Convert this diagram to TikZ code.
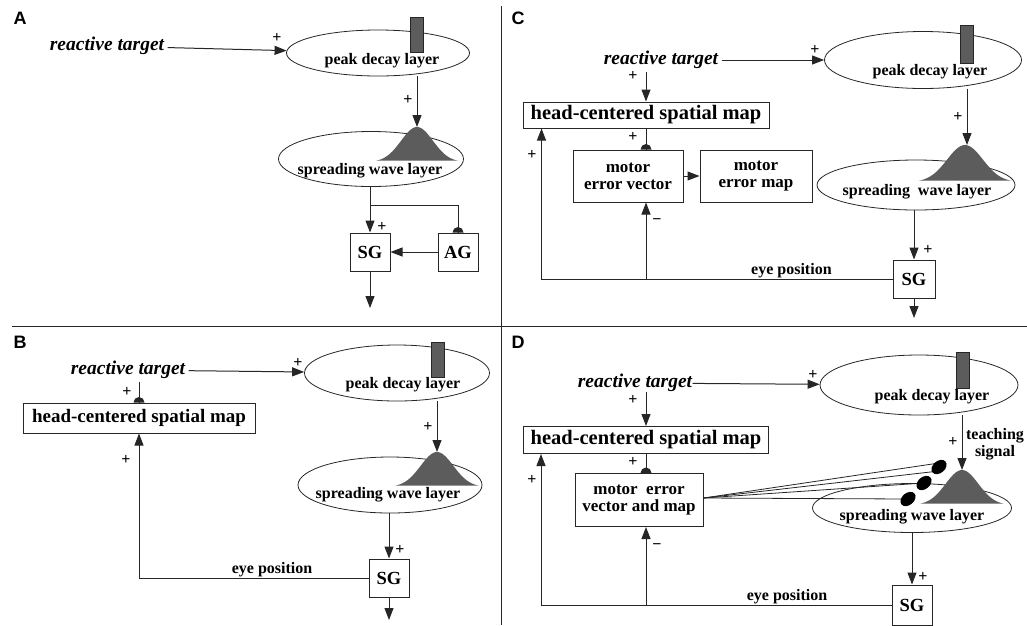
\documentclass[tikz,border=0pt]{standalone}
\usepackage{fontspec}
\setmainfont{Liberation Serif}
\setsansfont{Liberation Sans}
\usetikzlibrary{arrows.meta,shapes.geometric}
\definecolor{hump}{HTML}{5C5C5C}
\newcommand{\inhib}[1]{\fill[black!85] (#1) ++(-5.5,0) arc[start angle=180,end angle=0,radius=5.5pt] -- cycle;}
\newcommand{\wavehump}[4]{\fill[hump] plot[domain=-#4:#4,samples=41,smooth] ({#1+\x},{#2-#3*exp(-(\x/(0.55*#4))^2)}) -- cycle;}

\begin{document}
\begin{tikzpicture}[x=1pt,y=-1pt,line width=1pt,draw=black!85]
    \tikzstyle{layer}=[ellipse,draw,inner sep=0pt,line width=0.8pt]
    \tikzstyle{box}=[rectangle,draw,inner sep=0pt,align=center,font=\bfseries\fontsize{17}{17}\selectfont]
    \tikzstyle{gen}=[box,minimum width=40pt,minimum height=38pt,font=\bfseries\fontsize{18.5}{18.5}\selectfont]
    \tikzstyle{headmap}=[box,font=\bfseries\fontsize{20.5}{20.5}\selectfont]
    \tikzstyle{lbl}=[inner sep=0pt,align=center,font=\bfseries\fontsize{16}{17}\selectfont]
    \tikzstyle{target}=[inner sep=3pt,font=\bfseries\itshape\fontsize{19.5}{19.5}\selectfont]
    \tikzstyle{decaybar}=[rectangle,draw,fill=hump,inner sep=0pt,minimum width=13pt,line width=0.8pt]
    \tikzstyle{sign}=[inner sep=0pt,font=\bfseries\fontsize{16}{16}\selectfont]
    \tikzstyle{panel}=[font=\sffamily\bfseries\fontsize{18}{18}\selectfont]
    \tikzstyle{excite}=[-{Triangle[length=12pt,width=9pt]}]
    \tikzstyle{eyelbl}=[above,inner sep=1pt,font=\bfseries\fontsize{16}{16}\selectfont]
    \useasboundingbox (0,0) rectangle (1027,625);
    % panel frame
    \draw (501,6) -- (501,625);
    \draw (12,326) -- (1027,326);
    % A
    \node (Alab) at (20,18) [panel] {A};
    \node (Atarget) at (107,46) [target] {reactive target};
    \node (Apeak) at (378,53) [layer,minimum width=183pt,minimum height=46pt] {};
    \node (Abar) at (417,35) [decaybar,minimum height=35pt] {};
    \node (Apeaktxt) at (382,61) [lbl] {peak decay layer};
    \node (Awave) at (371,159) [layer,minimum width=185pt,minimum height=55pt] {};
    \wavehump{417}{162}{35}{41}
    \coordinate (Apk) at (417,127);
    \node (Awavetxt) at (370,171) [lbl] {spreading wave layer};
    \node (Asg) at (370,252) [gen] {SG};
    \node (Aag) at (458,252) [gen] {AG};
    \coordinate (Abr) at (370,205);
    \coordinate (Aout) at (370,308);
    \draw [excite] (Atarget) -- (Apeak);
    \draw [excite] (Apk |- Apeak.south) -- (Apk);
    \draw [excite] (Asg |- Awave.south) -- (Asg);
    \draw (Abr) -| (Aag.north);
    \inhib{Aag.north}
    \draw [excite] (Aag) -- (Asg);
    \draw [excite] (Asg) -- (Aout);
    \node (Ap1) at (277,38) [sign] {+};
    \node (Ap2) at (408,100) [sign] {+};
    \node (Ap3) at (382,227) [sign] {+};
    % B
    \node (Blab) at (20,342) [panel] {B};
    \node (Btarget) at (128,370) [target] {reactive target};
    \node (Bpeak) at (397,373) [layer,minimum width=185pt,minimum height=56pt] {};
    \node (Bbar) at (438,360) [decaybar,minimum height=35pt] {};
    \node (Bpeaktxt) at (403,385) [lbl] {peak decay layer};
    \node (Bwave) at (390,485) [layer,minimum width=184pt,minimum height=56pt] {};
    \wavehump{437}{487}{35}{42}
    \coordinate (Bpk) at (437,452);
    \node (Bwavetxt) at (388,495) [lbl] {spreading wave layer};
    \node (Bsg) at (389,578) [gen] {SG};
    \node (Bhead) at (139,418) [headmap,minimum width=232pt,minimum height=30pt,font=\bfseries\fontsize{19}{19}\selectfont] {head-centered spatial map};
    \coordinate (Bout) at (389,620);
    \draw [excite] (Btarget) -- (Bpeak);
    \draw (Btarget.south -| Bhead.north) -- (Bhead.north);
    \inhib{Bhead.north}
    \draw [excite] (Bpk |- Bpeak.south) -- (Bpk);
    \draw [excite] (Bsg |- Bwave.south) -- (Bsg);
    \draw [excite] (Bsg) -- (Bout);
    \draw [excite] (Bsg.west) -| node (Beye) [eyelbl,pos=0.21] {eye position} (Bhead.south);
    \node (Bp1) at (298,363) [sign] {+};
    \node (Bp2) at (428,427) [sign] {+};
    \node (Bp3) at (400,550) [sign] {+};
    \node (Bp4) at (126,460) [sign] {+};
    \node (Bp5) at (127,392) [sign] {+};
    % C
    \node (Clab) at (518,18) [panel] {C};
    \node (Ctarget) at (661,60) [target] {reactive target};
    \node (Cpeak) at (923,60) [layer,minimum width=197pt,minimum height=57pt] {};
    \node (Cbar) at (967,44) [decaybar,minimum height=38pt] {};
    \node (Cpeaktxt) at (930,72) [lbl] {peak decay layer};
    \node (Cwave) at (916,185) [layer,minimum width=198pt,minimum height=50pt] {};
    \wavehump{965}{182}{37}{46}
    \coordinate (Cpk) at (967,145);
    \node (Cwavetxt) at (917,192) [lbl] {spreading\ \ wave layer};
    \node (Csg) at (914,279) [gen,minimum width=42pt] {SG};
    \node (Chead) at (646,115) [headmap,minimum width=246pt,minimum height=26pt] {head-centered spatial map};
    \node (Cvec) at (628,176) [box,minimum width=110pt,minimum height=52pt] {motor\\error vector};
    \node (Cmap) at (756,176) [box,minimum width=112pt,minimum height=52pt] {motor\\error map};
    \coordinate (Cout) at (914,318);
    \draw [excite] (Ctarget) -- (Cpeak);
    \draw [excite] (Ctarget.south -| Chead.north) -- (Chead.north);
    \draw (Chead.south) -- (Chead.south |- Cvec.north);
    \inhib{Chead.south |- Cvec.north}
    \draw [excite] (Cvec) -- (Cmap);
    \draw [excite] (Cpk |- Cpeak.south) -- (Cpk);
    \draw [excite] (Csg |- Cwave.south) -- (Csg);
    \draw [excite] (Csg) -- (Cout);
    \draw [excite] (Csg.west) -| node (Ceye) [eyelbl,pos=0.144] {eye position} ([xshift=19pt]Chead.south west);
    \draw [excite] (Csg.west -| Chead.south) -- (Chead.south |- Cvec.south);
    \node (Cp1) at (815,50) [sign] {+};
    \node (Cp2) at (633,76) [sign] {+};
    \node (Cp3) at (633,137) [sign] {+};
    \node (Cm1) at (657,222) [sign] {−};
    \node (Cp4) at (958,117) [sign] {+};
    \node (Cp5) at (928,250) [sign] {+};
    \node (Cp6) at (532,155) [sign] {+};
    % D
    \node (Dlab) at (518,342) [panel] {D};
    \node (Dtarget) at (635,383) [target,inner sep=0pt] {reactive target};
    \node (Dpeak) at (919,385) [layer,minimum width=198pt,minimum height=60pt] {};
    \node (Dbar) at (963,370) [decaybar,minimum height=36pt] {};
    \node (Dpeaktxt) at (932,397) [lbl] {peak decay layer};
    \node (Dwave) at (912,508) [layer,minimum width=199pt,minimum height=49pt] {};
    \wavehump{962}{505}{35}{42}
    \coordinate (Dpk) at (962,470);
    \node (Dwavetxt) at (912,517) [lbl] {spreading wave layer};
    \node (Dteach) at (995,444) [lbl] {teaching\\signal};
    \node (Dsg) at (912,605) [gen,minimum height=40pt] {SG};
    \node (Dhead) at (646,440) [headmap,minimum width=245pt,minimum height=27pt] {head-centered spatial map};
    \node (Dvec) at (639,500) [box,minimum width=128pt,minimum height=53pt] {motor\ \ error\\vector and map};
    \coordinate (Dsyn1) at (939,467);
    \coordinate (Dsyn2) at (924,483);
    \coordinate (Dsyn3) at (908,499);
    \draw [excite] (Dtarget) -- (Dpeak);
    \draw [excite] (Dtarget.south -| Dhead.north) -- (Dhead.north);
    \draw (Dhead.south) -- (Dhead.south |- Dvec.north);
    \inhib{Dhead.south |- Dvec.north}
    \draw [excite] (Dpk |- Dpeak.south) -- (Dpk);
    \draw [excite] (Dsg |- Dwave.south) -- (Dsg);
    \draw [excite] (Dsg.west) -| node (Deye) [eyelbl,pos=0.149] {eye position} ([xshift=18pt]Dhead.south west);
    \draw [excite] (Dsg.west -| Dhead.south) -- (Dhead.south |- Dvec.south);
    \draw [line width=0.8pt] ([yshift=2pt]Dvec.east) -- ([yshift=4pt]Dsyn1);
    \draw [line width=0.8pt] ([yshift=2pt]Dvec.east) -- ([yshift=-4pt]Dsyn1);
    \draw [line width=0.8pt] ([yshift=2pt]Dvec.east) -- (Dsyn2);
    \draw [line width=0.8pt] ([yshift=2pt]Dvec.east) -- (Dsyn3);
    \fill [black] (Dsyn1) ellipse [x radius=8.5pt,y radius=6pt,rotate=40];
    \fill [black] (Dsyn2) ellipse [x radius=8.5pt,y radius=6pt,rotate=40];
    \fill [black] (Dsyn3) ellipse [x radius=8.5pt,y radius=6pt,rotate=40];
    \node (Dp1) at (813,375) [sign] {+};
    \node (Dp2) at (633,400) [sign] {+};
    \node (Dp3) at (633,462) [sign] {+};
    \node (Dm1) at (657,547) [sign] {−};
    \node (Dp4) at (953,442) [sign] {+};
    \node (Dp5) at (923,577) [sign] {+};
    \node (Dp6) at (532,480) [sign] {+};
\end{tikzpicture}
\end{document}
